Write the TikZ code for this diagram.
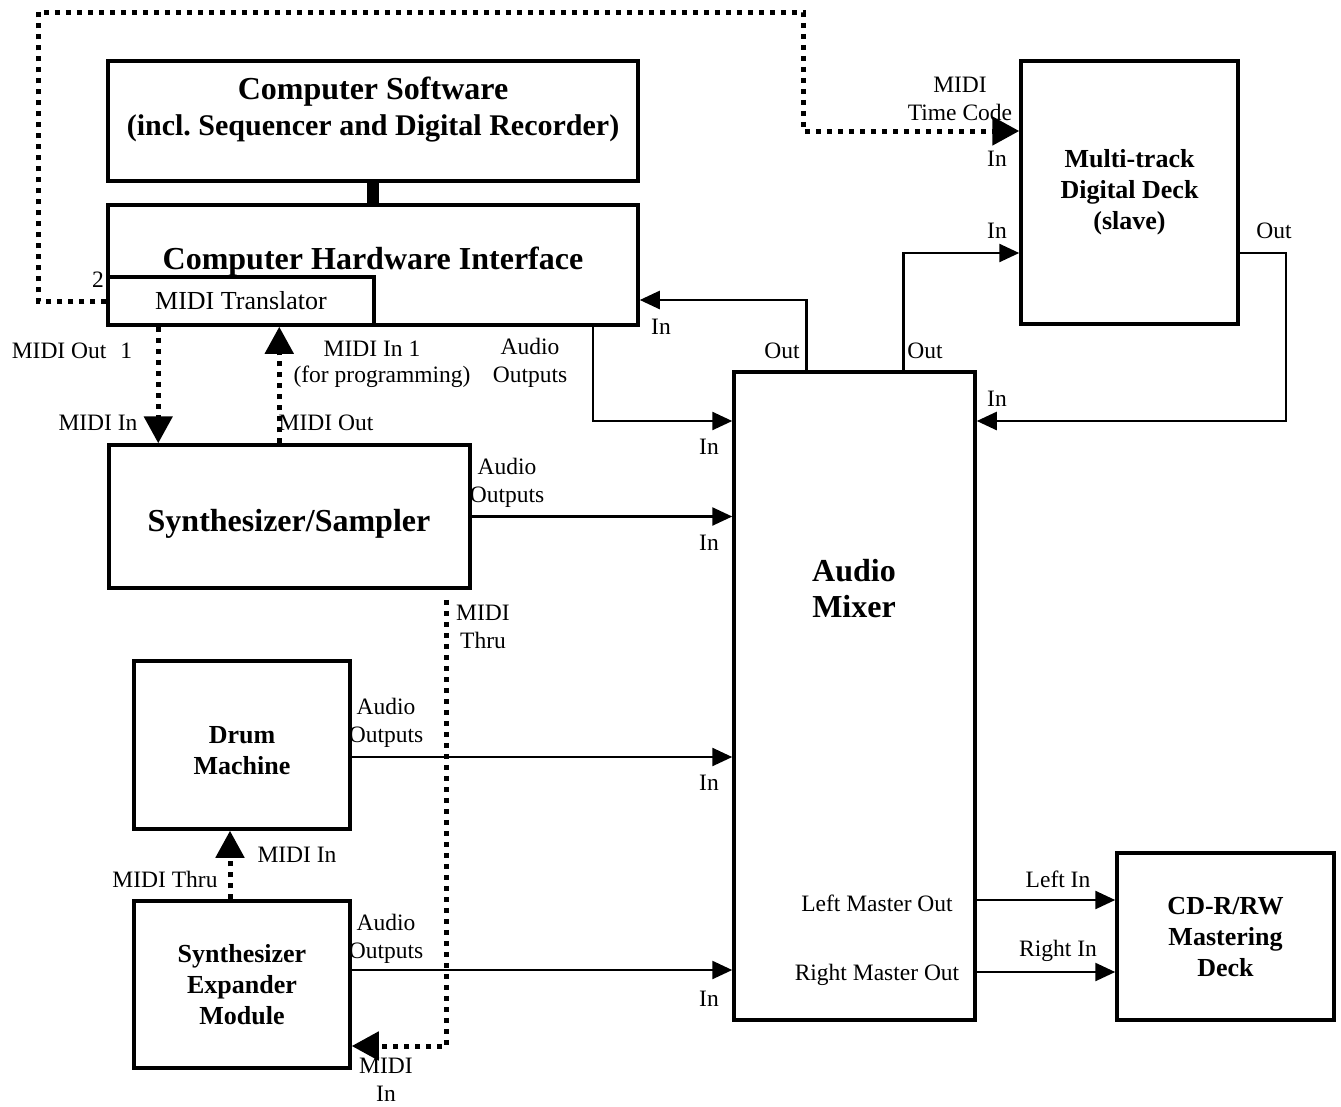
\documentclass[tikz,border=0pt]{standalone}
\usepackage{fontspec}
\setmainfont{Liberation Serif}
\usetikzlibrary{arrows.meta}
\frenchspacing

\begin{document}
\begin{tikzpicture}[x=1pt,y=-1pt,
    box/.style={draw,line width=3.5pt,inner sep=0pt,align=center,
      font=\fontsize{26}{31}\selectfont\bfseries},
    title/.style={align=center,inner sep=0pt,font=\fontsize{32}{36}\selectfont\bfseries},
    lbl/.style={align=center,inner sep=0pt,font=\fontsize{23.5}{28}\selectfont},
    audio/.style={line width=2.5pt,-{Triangle[length=20pt,width=18pt]}},
    midi/.style={line width=5pt,dash pattern=on 5pt off 6pt,
      -{Triangle[length=27pt,width=28pt]}}]
    \useasboundingbox (0,0) rectangle (1341,1106);

    % computer
    \node[box,minimum width=530,minimum height=120] (soft) at (373,121) {};
    \node[title] (softtxt) at (373,110) {Computer Software\\{\fontsize{30}{36}\selectfont(incl. Sequencer and Digital Recorder)}};
    \node[box,minimum width=530,minimum height=120] (hw) at (373,265) {};
    \node[title] (hwtxt) at (373,262) {Computer Hardware Interface};
    \node[box,minimum width=266,minimum height=48,font=\fontsize{26}{30}\selectfont] (trans) at (241,301) {MIDI Translator};
    \draw[line width=12pt] (soft.south) -- (hw.north);

    % instruments
    \node[box,minimum width=361,minimum height=143] (synth) at (289.5,516.5) {};
    \node[title] (synthtxt) at (289,524) {Synthesizer/Sampler};
    \node[box,minimum width=216,minimum height=168] (drum) at (242,745) {};
    \node[box,inner sep=0pt,draw=none] (drumtxt) at (242,751) {Drum\\Machine};
    \node[box,minimum width=216,minimum height=167] (exp) at (242,984.5) {Synthesizer\\Expander\\Module};

    % mixer and decks
    \node[box,minimum width=241,minimum height=648] (mix) at (854.5,696) {};
    \node[title] (mixtxt) at (854,589) {Audio\\Mixer};
    \node[box,minimum width=217,minimum height=263] (deck) at (1129.5,192.5) {Multi-track\\Digital Deck\\(slave)};
    \node[box,minimum width=217,minimum height=167] (cd) at (1225.5,936.5) {CD-R/RW\\Mastering\\Deck};

    % MIDI connections
    \coordinate (loopa) at (38,12);
    \coordinate (loopb) at (803,12);
    \draw[midi] (trans.west) -| (loopa) -- (loopb) |- ([yshift=61.5pt]deck.west);
    \coordinate (mout) at ([xshift=52pt]trans.south west);
    \draw[midi] (mout) -- (mout |- synth.north);
    \coordinate (min) at ([xshift=172pt]synth.north west);
    \draw[midi] (min) -- (min |- trans.south);
    \coordinate (thru) at ([xshift=-25pt,yshift=-10pt]synth.south east);
    \draw[midi] (thru) |- ([yshift=-61.5pt]exp.east);
    \coordinate (dthru) at ([xshift=-12pt]exp.north);
    \draw[midi] (dthru) -- (dthru |- drum.south);

    % audio connections
    \coordinate (hwout) at ([xshift=-47pt]hw.south east);
    \draw[audio] (hwout) |- ([yshift=275pt]mix.west);
    \draw[audio] (synth.east) -- (synth.east -| mix.west);
    \coordinate (drout) at ([yshift=-12pt]drum.east);
    \draw[audio] (drout) -- (drout -| mix.west);
    \coordinate (exout) at ([yshift=14.5pt]exp.east);
    \draw[audio] (exout) -- (exout -| mix.west);
    \coordinate (mo1) at ([xshift=74pt]mix.north west);
    \draw[audio] (mo1) |- ([yshift=-35pt]hw.east);
    \coordinate (mo2) at ([xshift=171pt]mix.north west);
    \draw[audio] (mo2) |- ([yshift=-60.5pt]deck.west);
    \coordinate (dkbend) at (1286,421);
    \draw[audio] ([yshift=-60.5pt]deck.east) -| (dkbend) -- (dkbend -| mix.east);
    \coordinate (cdl) at ([yshift=36.5pt]cd.west);
    \draw[audio] (cdl -| mix.east) -- (cdl);
    \coordinate (cdr) at ([yshift=-35.5pt]cd.west);
    \draw[audio] (cdr -| mix.east) -- (cdr);

    % labels
    \node[lbl] (ltwo) at (98,280) {2};
    \node[lbl] (lmout) at (72,351) {MIDI Out\hspace{14pt}1};
    \node[lbl] (lsynin) at (98,423) {MIDI In};
    \node[lbl] (lmin) at (372,349) {MIDI In 1};
    \node[lbl] (lprog) at (382,377) {(for programming)};
    \node[lbl] (lsynout) at (326,423) {MIDI Out};
    \node[lbl] (lhwaud) at (530,363) {Audio\\Outputs};
    \node[lbl] (lhwin) at (661,327) {In};
    \node[lbl] (lmo1) at (782,351) {Out};
    \node[lbl] (lmo2) at (925,351) {Out};
    \node[lbl] (ltc) at (960,99) {MIDI\\Time Code};
    \node[lbl] (ltcin) at (997,159) {In};
    \node[lbl] (ldkin) at (997,231) {In};
    \node[lbl] (ldkout) at (1274,231) {Out};
    \node[lbl] (lmixin) at (997,399) {In};
    \node[lbl] (lin1) at (709,447) {In};
    \node[lbl] (lsynaud) at (507,483) {Audio\\Outputs};
    \node[lbl] (lin2) at (709,543) {In};
    \node[lbl] (lthru) at (483,627) {MIDI\\Thru};
    \node[lbl] (ldraud) at (386,723) {Audio\\Outputs};
    \node[lbl] (lin3) at (709,783) {In};
    \node[lbl] (ldrin) at (297,855) {MIDI In};
    \node[lbl] (lexthru) at (165,879) {MIDI Thru};
    \node[lbl] (lexaud) at (386,939) {Audio\\Outputs};
    \node[lbl] (lin4) at (709,999) {In};
    \node[lbl] (lexin) at (386,1080) {MIDI\\In};
    \node[lbl] (llmo) at (877,903) {Left Master Out};
    \node[lbl] (lrmo) at (877,975) {Right Master Out};
    \node[lbl] (llin) at (1058,879) {Left In};
    \node[lbl] (lrin) at (1058,951) {Right In};
\end{tikzpicture}
\end{document}
